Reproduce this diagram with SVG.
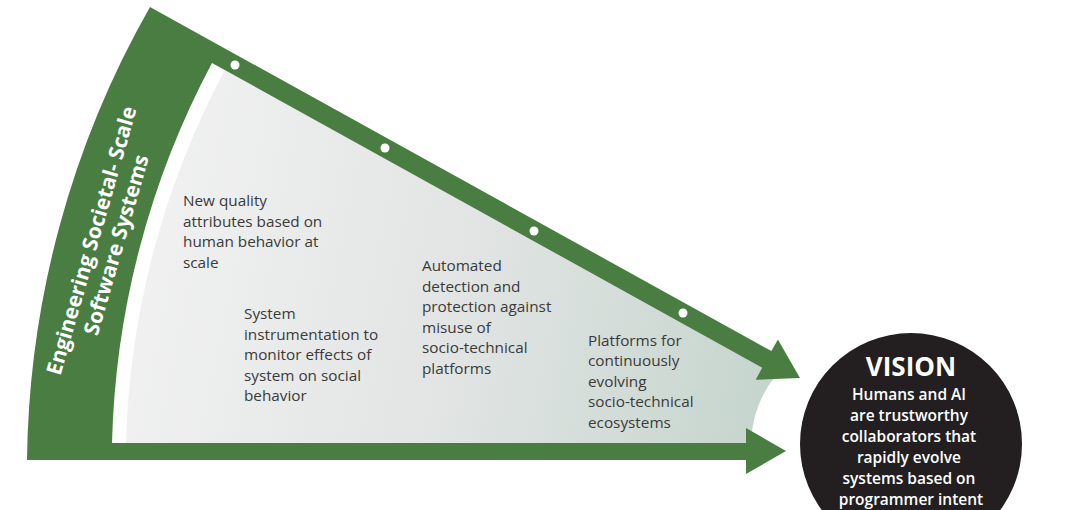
<svg xmlns="http://www.w3.org/2000/svg" width="1080" height="510" viewBox="0 0 1080 510">
  <defs>
    <linearGradient id="grayGrad" gradientUnits="userSpaceOnUse" x1="130" y1="250" x2="770" y2="380">
      <stop offset="0" stop-color="#f1f1f1"/>
      <stop offset="0.5" stop-color="#e2e5e4"/>
      <stop offset="1" stop-color="#c6d5ce"/>
    </linearGradient>
    <style>
      .green { fill: #4a7d42; }
      .dot { fill: #ffffff; }
      .body { font-family: "Open Sans", "Liberation Sans", sans-serif; font-size: 15.3px; fill: #3a3a3a; }
      .band { font-family: "Open Sans", "Liberation Sans", sans-serif; font-size: 21px; font-weight: 700; fill: #ffffff; }
      .vtitle { font-family: "Open Sans", "Liberation Sans", sans-serif; font-size: 26px; font-weight: 700; fill: #ffffff; }
      .vbody { font-family: "Open Sans", "Liberation Sans", sans-serif; font-size: 15.5px; font-weight: 600; fill: #ffffff; }
    </style>
  </defs>
  <rect width="1080" height="510" fill="#ffffff"/>

  <g id="sector">
    <path fill="url(#grayGrad)" d="M 224.8,70.2 L 776,375.2 A 114 114 0 0 0 751,443 L 126,443 A 838 838 0 0 1 224.8,70.2 Z"/>
  </g>

  <g id="connectors">
    <path class="green" d="M 150,7 L 771.4,351.1 L 777.9,339.5 L 800,378 L 755.7,379.7 L 762.2,367.7 L 212,63 A 852 852 0 0 0 112,443 L 746,443 L 746,428 L 786,451 L 746,474 L 746,460 L 27,460 A 936 936 0 0 1 150,7 Z"/>
    <circle class="dot" cx="235" cy="65" r="4.5"/>
    <circle class="dot" cx="385" cy="148" r="4.5"/>
    <circle class="dot" cx="534" cy="231" r="4.5"/>
    <circle class="dot" cx="683" cy="313" r="4.5"/>
  </g>

  <g id="band-label">
    <text class="band" transform="translate(92.5,238) rotate(-74)" text-anchor="middle">
      <tspan x="0" y="7">Engineering Societal- Scale</tspan>
      <tspan x="0" y="32">Software Systems</tspan>
    </text>
  </g>

  <g id="node-quality">
    <text class="body">
      <tspan x="183" y="206">New quality</tspan>
      <tspan x="183" y="226.5">attributes based on</tspan>
      <tspan x="183" y="247">human behavior at</tspan>
      <tspan x="183" y="267.5">scale</tspan>
    </text>
  </g>

  <g id="node-instrumentation">
    <text class="body">
      <tspan x="244" y="319">System</tspan>
      <tspan x="244" y="339.5">instrumentation to</tspan>
      <tspan x="244" y="360">monitor effects of</tspan>
      <tspan x="244" y="380.5">system on social</tspan>
      <tspan x="244" y="401">behavior</tspan>
    </text>
  </g>

  <g id="node-detection">
    <text class="body">
      <tspan x="422" y="271">Automated</tspan>
      <tspan x="422" y="291.5">detection and</tspan>
      <tspan x="422" y="312">protection against</tspan>
      <tspan x="422" y="332.5">misuse of</tspan>
      <tspan x="422" y="353">socio-technical</tspan>
      <tspan x="422" y="373.5">platforms</tspan>
    </text>
  </g>

  <g id="node-platforms">
    <text class="body">
      <tspan x="588" y="345.5">Platforms for</tspan>
      <tspan x="588" y="366">continuously</tspan>
      <tspan x="588" y="386.5">evolving</tspan>
      <tspan x="588" y="407">socio-technical</tspan>
      <tspan x="588" y="427.5">ecosystems</tspan>
    </text>
  </g>

  <g id="node-vision">
    <circle cx="911" cy="444" r="111" fill="#231f20"/>
    <text class="vtitle" x="911" y="376" text-anchor="middle">VISION</text>
    <text class="vbody" text-anchor="middle">
      <tspan x="911" y="399.5">Humans and AI</tspan>
      <tspan x="911" y="420.5">are trustworthy</tspan>
      <tspan x="911" y="441.5">collaborators that</tspan>
      <tspan x="911" y="462.5">rapidly evolve</tspan>
      <tspan x="911" y="483.5">systems based on</tspan>
      <tspan x="911" y="504.5">programmer intent</tspan>
    </text>
  </g>
</svg>
